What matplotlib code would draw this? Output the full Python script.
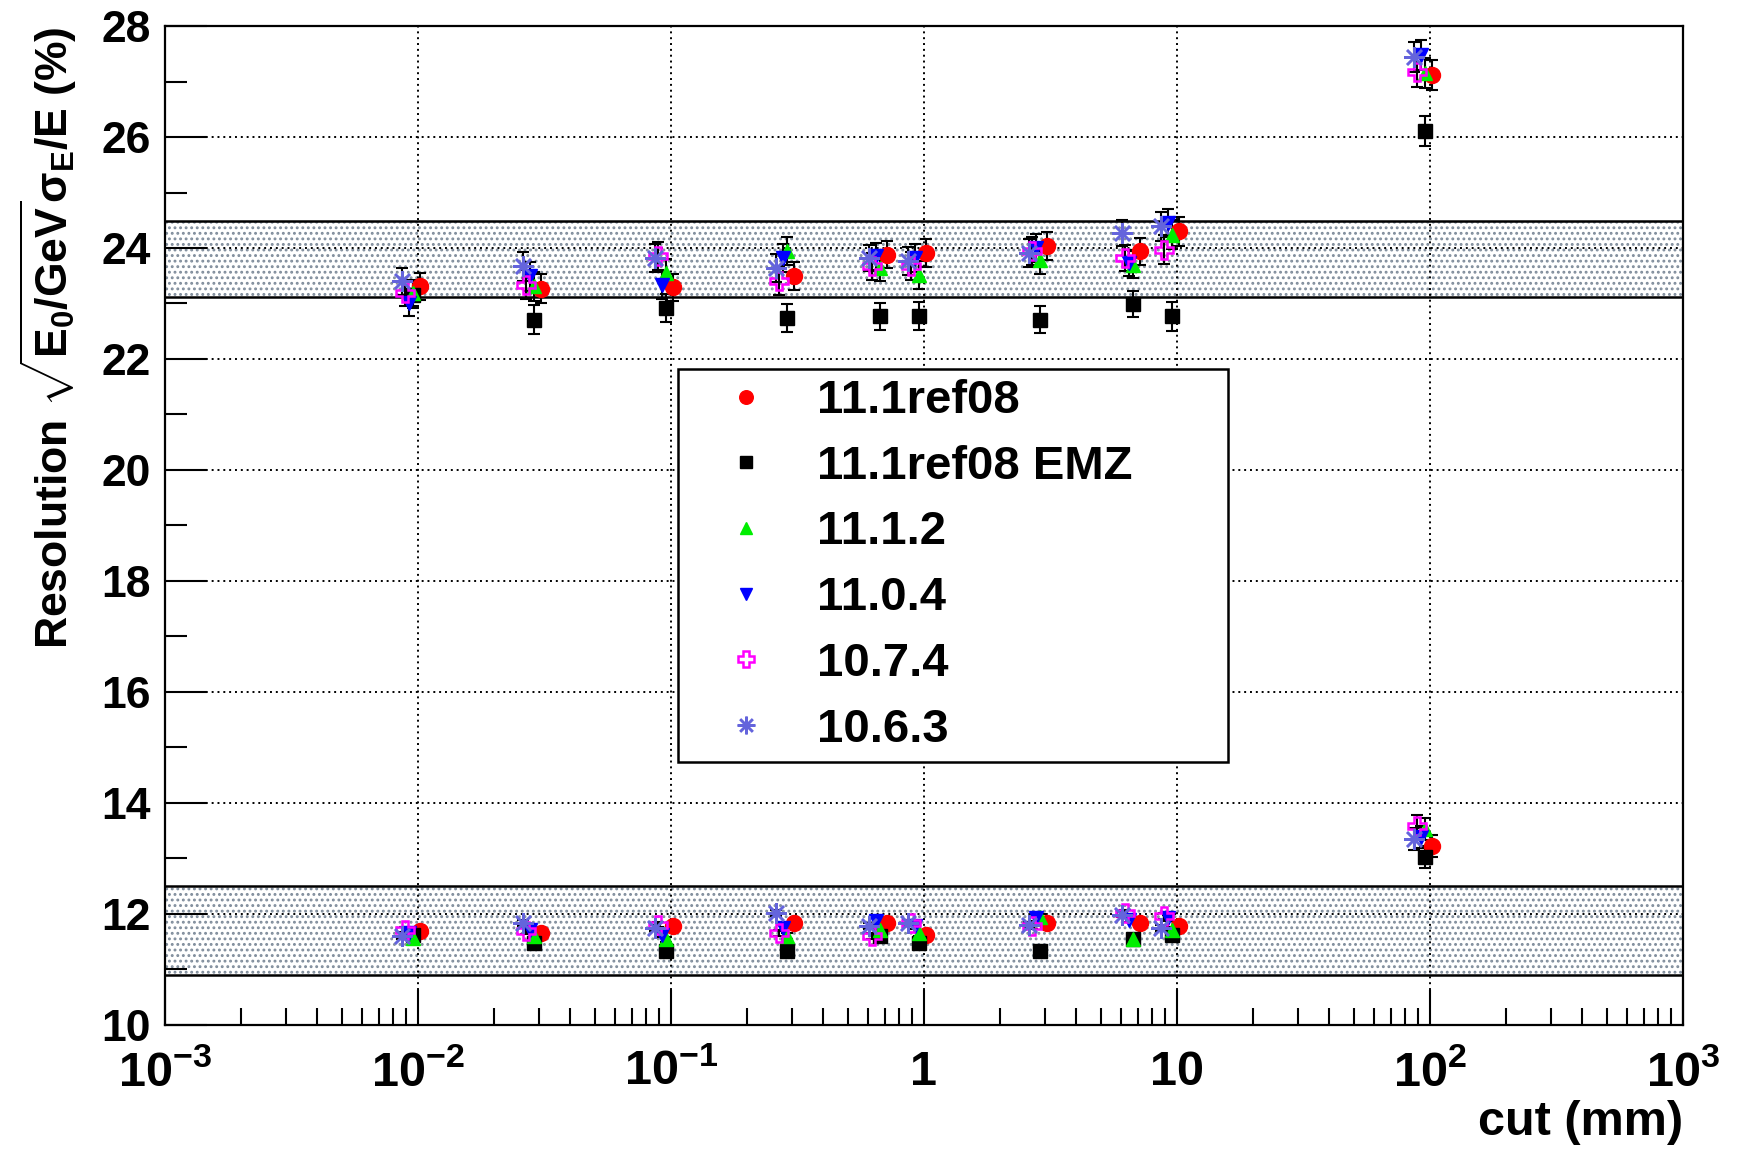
import matplotlib
matplotlib.use("Agg")
import matplotlib.pyplot as plt
from matplotlib.lines import Line2D
from matplotlib.ticker import FixedLocator, LogLocator, MultipleLocator, NullFormatter

plt.rcParams['font.family'] = ['Liberation Sans', 'DejaVu Sans']
plt.rcParams['font.weight'] = 'bold'
plt.rcParams['mathtext.fontset'] = 'custom'
plt.rcParams['mathtext.rm'] = 'Liberation Sans:bold'
plt.rcParams['mathtext.it'] = 'Liberation Sans:bold'
plt.rcParams['mathtext.bf'] = 'Liberation Sans:bold'
plt.rcParams['mathtext.sf'] = 'Liberation Sans:bold'
plt.rcParams['hatch.color'] = '#7f8c9b'
plt.rcParams['hatch.linewidth'] = 1.3

# production cut values (mm)
cuts = [0.01, 0.03, 0.1, 0.3, 0.7, 1, 3, 7, 10, 100]

labels = ['11.1ref08', '11.1ref08 EMZ', '11.1.2', '11.0.4', '10.7.4', '10.6.3']

# upper set of points (%)
ref08_top = [23.31, 23.27, 23.29, 23.49, 23.88, 23.91, 24.03, 23.94, 24.30, 27.12]
emz_top = [23.15, 22.71, 22.92, 22.74, 22.77, 22.77, 22.71, 22.99, 22.77, 26.10]
v1112_top = [23.19, 23.31, 23.55, 23.94, 23.64, 23.52, 23.79, 23.70, 24.24, 27.15]
v1104_top = [23.01, 23.49, 23.34, 23.82, 23.85, 23.82, 24.00, 23.73, 24.45, 27.48]
v1074_top = [23.19, 23.34, 23.85, 23.40, 23.67, 23.67, 23.94, 23.82, 23.97, 27.18]
v1063_top = [23.40, 23.67, 23.82, 23.64, 23.82, 23.76, 23.91, 24.27, 24.39, 27.45]

# lower set of points (%)
ref08_bot = [11.69, 11.66, 11.78, 11.83, 11.84, 11.63, 11.84, 11.84, 11.78, 13.23]
emz_bot = [11.62, 11.48, 11.33, 11.33, 11.60, 11.48, 11.33, 11.55, 11.63, 13.02]
v1112_bot = [11.57, 11.60, 11.54, 11.60, 11.72, 11.66, 11.95, 11.54, 11.72, 13.53]
v1104_bot = [11.66, 11.72, 11.63, 11.75, 11.87, 11.78, 11.93, 11.90, 11.93, 13.38]
v1074_bot = [11.72, 11.69, 11.81, 11.66, 11.60, 11.84, 11.78, 12.02, 11.96, 13.59]
v1063_bot = [11.60, 11.84, 11.75, 12.02, 11.78, 11.84, 11.81, 11.99, 11.75, 13.35]

# errors
err_top = [0.24, 0.26, 0.25, 0.25, 0.24, 0.25, 0.25, 0.24, 0.26, 0.27]
err_bot = [0.05, 0.05, 0.05, 0.05, 0.05, 0.05, 0.05, 0.05, 0.05, 0.2]

# reference bands
band_top = (23.12, 24.48)
band_bot = (10.9, 12.5)

tops = [ref08_top, emz_top, v1112_top, v1104_top, v1074_top, v1063_top]
bots = [ref08_bot, emz_bot, v1112_bot, v1104_bot, v1074_bot, v1063_bot]

# marker styles (color, marker, filled, size, shift factor)
styles = [
    ('#ff0000', 'o', True, 11.5, 1.018),
    ('#000000', 's', True, 10, 0.955),
    ('#00ee00', '^', True, 10.5, 0.955),
    ('#0000ff', 'v', True, 10.5, 0.92),
    ('#ff00ff', 'P', False, 13, 0.89),
    ('#6464dc', (8, 2, 0), False, 15, 0.865),
]
draw_order = [1, 2, 3, 4, 5, 0]

fig = plt.figure(figsize=(17.42, 11.51), dpi=100)
ax = fig.add_axes([0.0947, 0.1095, 0.8714, 0.8679])
ax.set_xscale('log')
ax.set_xlim(1e-3, 1e3)
ax.set_ylim(10, 28)

for lo, hi in (band_top, band_bot):
    ax.fill_between([1e-3, 1e3], lo, hi, facecolor='white', hatch='...',
                    edgecolor='#7f8c9b', linewidth=0, zorder=1)
    ax.axhline(lo, color='black', lw=1.8, zorder=2)
    ax.axhline(hi, color='black', lw=1.8, zorder=2)

for i in draw_order:
    col, mk, filled, ms, shift = styles[i]
    xs = [c * shift for c in cuts]
    for ys, es in ((tops[i], err_top), (bots[i], err_bot)):
        ax.errorbar(xs, ys, yerr=es, fmt='none', ecolor='black', elinewidth=1.5,
                    capsize=4.5, capthick=1.5, zorder=3 + i * 0.1)
        if filled:
            ax.plot(xs, ys, linestyle='none', marker=mk, markersize=ms, color=col,
                    markeredgecolor=col, zorder=4 + i * 0.1)
        else:
            ax.plot(xs, ys, linestyle='none', marker=mk, markersize=ms,
                    markerfacecolor='none', markeredgecolor=col, markeredgewidth=1.8,
                    zorder=4 + i * 0.1)

# grid
ax.grid(True, which='major', color='black', linestyle=(0, (1, 2)), linewidth=1.4)
ax.set_axisbelow(False)

# axes / ticks
xt = [1e-3, 1e-2, 1e-1, 1, 10, 100, 1000]
xtl = [r'$10^{-3}$', r'$10^{-2}$', r'$10^{-1}$', '1', '10', r'$10^{2}$', r'$10^{3}$']
ax.xaxis.set_major_locator(FixedLocator(xt))
ax.set_xticklabels(xtl)
ax.xaxis.set_minor_locator(LogLocator(base=10, subs=range(2, 10)))
ax.xaxis.set_minor_formatter(NullFormatter())
ax.yaxis.set_major_locator(MultipleLocator(2))
ax.yaxis.set_minor_locator(MultipleLocator(1))

ax.tick_params(axis='both', which='both', direction='in', width=1.5, top=False, right=False)
ax.tick_params(axis='y', which='major', length=30, labelsize=32, pad=10)
ax.tick_params(axis='y', which='minor', length=16)
ax.tick_params(axis='x', which='major', length=25, labelsize=35, pad=18)
ax.tick_params(axis='x', which='minor', length=12)
for s in ax.spines.values():
    s.set_linewidth(1.6)

ax.set_xlabel('cut (mm)', fontsize=35, fontweight='bold', loc='right', labelpad=3)
ax.set_ylabel(r'Resolution $\sqrt{E_{0}/GeV}\sigma_{E}/E$ (%)', fontsize=32,
              fontweight='bold', loc='top', labelpad=16)

handles = []
for col, mk, filled, ms, shift in styles:
    if filled:
        handles.append(Line2D([], [], linestyle='none', marker=mk, markersize=ms * 0.85,
                              color=col))
    else:
        handles.append(Line2D([], [], linestyle='none', marker=mk, markersize=ms * 0.85,
                              markerfacecolor='none', markeredgecolor=col,
                              markeredgewidth=1.8))
leg = ax.legend(handles, labels, loc='upper left', bbox_to_anchor=(0.338, 0.264, 0.362, 0.393),
                mode='expand', borderaxespad=0, borderpad=0.22, handlelength=2.44,
                handletextpad=0.28, labelspacing=0.46, fancybox=False, framealpha=1,
                edgecolor='black', prop={'family': 'Liberation Sans', 'weight': 'bold', 'size': 34})
leg.get_frame().set_linewidth(1.8)
leg.set_zorder(10)

fig.savefig('out.png', dpi=100)
